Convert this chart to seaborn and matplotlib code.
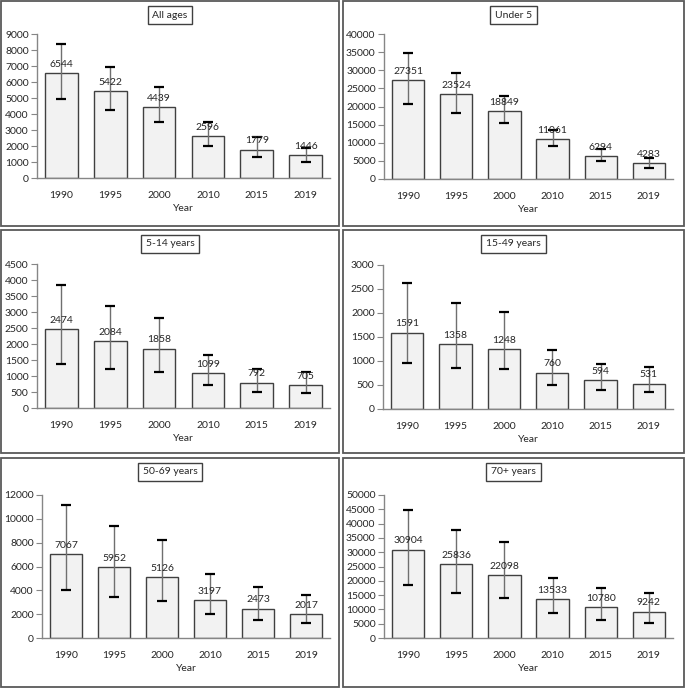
import matplotlib
matplotlib.use("Agg")
import matplotlib.pyplot as plt
import seaborn as sns
import pandas as pd
from matplotlib.patches import Rectangle

years = ["1990", "1995", "2000", "2010", "2015", "2019"]

all_ages = [6544, 5422, 4439, 2596, 1779, 1446]
all_ages_lo = [4930, 4240, 3530, 2030, 1285, 1015]
all_ages_hi = [8350, 6910, 5660, 3530, 2560, 1870]

under5 = [27351, 23524, 18849, 11061, 6294, 4283]
under5_lo = [20650, 18160, 15480, 9040, 4890, 3130]
under5_hi = [34750, 29220, 22950, 13550, 8300, 5810]

age5_14 = [2474, 2084, 1858, 1099, 792, 705]
age5_14_lo = [1385, 1210, 1125, 730, 500, 460]
age5_14_hi = [3830, 3180, 2810, 1645, 1205, 1120]

age15_49 = [1591, 1358, 1248, 760, 594, 531]
age15_49_lo = [960, 850, 830, 500, 400, 350]
age15_49_hi = [2620, 2205, 2030, 1220, 945, 870]

age50_69 = [7067, 5952, 5126, 3197, 2473, 2017]
age50_69_lo = [3990, 3460, 3070, 2010, 1490, 1240]
age50_69_hi = [11190, 9400, 8200, 5350, 4270, 3640]

age70 = [30904, 25836, 22098, 13533, 10780, 9242]
age70_lo = [18600, 15700, 13950, 8710, 6440, 5400]
age70_hi = [44770, 37790, 33490, 21000, 17560, 15600]

W, H = 685, 688

# title, values, lo, hi, ymax, ystep, axes box (l, r, t, b px), panel box (l, r, t, b px)
panels = [
    ("All ages", all_ages, all_ages_lo, all_ages_hi, 9000, 1000, (37, 330, 34, 178), (1, 339, 1, 226)),
    ("Under 5", under5, under5_lo, under5_hi, 40000, 5000, (384, 673, 34, 179), (343, 684, 1, 226)),
    ("5-14 years", age5_14, age5_14_lo, age5_14_hi, 4500, 500, (37, 330, 264, 408), (1, 339, 230, 453)),
    ("15-49 years", age15_49, age15_49_lo, age15_49_hi, 3000, 500, (383, 673, 265, 409), (343, 684, 230, 453)),
    ("50-69 years", age50_69, age50_69_lo, age50_69_hi, 12000, 2000, (42, 330, 495, 638), (1, 339, 458, 687)),
    ("70+ years", age70, age70_lo, age70_hi, 50000, 5000, (384, 673, 495, 638), (343, 684, 458, 687)),
]

sns.set_style("white")
plt.rcParams["font.family"] = ["Lato", "DejaVu Sans"]
plt.rcParams["font.size"] = 7.5

fig = plt.figure(figsize=(W / 100, H / 100), dpi=100)

grey = "#868686"
dark = "#404040"

for title, vals, lo, hi, ymax, ystep, ab, pb in panels:
    l, r, t, b = ab
    ax = fig.add_axes([l / W, 1 - b / H, (r - l) / W, (b - t) / H])
    df = pd.DataFrame({"Year": years, "val": vals})
    sns.barplot(data=df, x="Year", y="val", ax=ax, color="#f2f2f2", saturation=1,
                edgecolor=dark, linewidth=1, width=0.67)
    xs = list(range(len(years)))
    ax.vlines(xs, lo, hi, color="#6f6f6f", lw=1, zorder=3)
    ax.plot(xs, lo, ls="none", marker="_", ms=7.5, mew=1.6, color="black", zorder=4)
    ax.plot(xs, hi, ls="none", marker="_", ms=7.5, mew=1.6, color="black", zorder=4)
    for x, v in zip(xs, vals):
        ax.annotate(str(v), (x, v), xytext=(0, 3), textcoords="offset points",
                    ha="center", va="bottom", fontsize=7.5, color="#262626", zorder=5)
    ax.set_xlim(-0.5, len(years) - 0.5)
    ax.set_ylim(0, ymax)
    ax.set_yticks(range(0, ymax + 1, ystep))
    ax.set_ylabel("")
    ax.set_xlabel("Year", fontsize=7.5, color="#262626", labelpad=3)
    for s in ["top", "right"]:
        ax.spines[s].set_visible(False)
    for s in ["left", "bottom"]:
        ax.spines[s].set_color(grey)
        ax.spines[s].set_linewidth(1)
    ax.tick_params(axis="y", left=True, length=4, color=grey, labelsize=7.5,
                   labelcolor="#262626", pad=2)
    ax.tick_params(axis="x", bottom=False, labelsize=7.5, labelcolor="#262626", pad=6)
    ax.set_facecolor("none")

    pl, pr, pt, pbm = pb
    fig.patches.append(Rectangle((pl / W, 1 - pbm / H), (pr - pl) / W, (pbm - pt) / H,
                                 transform=fig.transFigure, fill=False,
                                 edgecolor="#595959", lw=1.3))
    fig.text((pl + pr) / 2 / W, 1 - (pt + 14) / H, title, ha="center", va="center",
             fontsize=7.5, color="#262626",
             bbox=dict(boxstyle="square,pad=0.45", fc="white", ec=dark, lw=1))

fig.savefig("out.png", dpi=100)
